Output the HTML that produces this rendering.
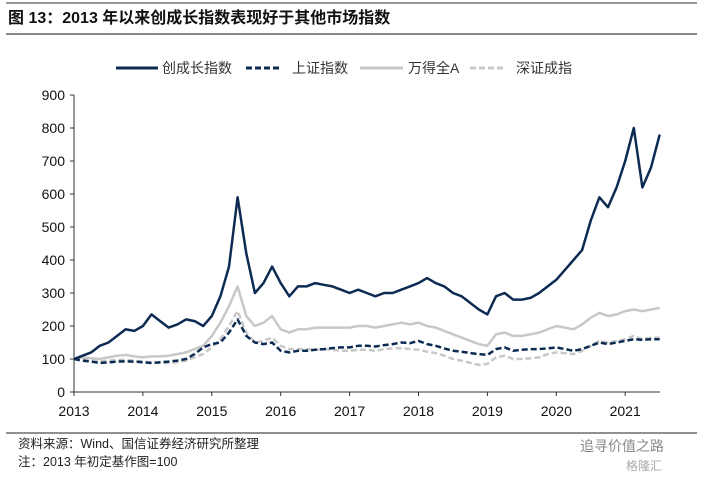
<!DOCTYPE html>
<html><head><meta charset="utf-8"><style>
body{margin:0;background:#fff;width:703px;height:474px;overflow:hidden;font-family:"Liberation Sans","Noto Sans CJK SC",sans-serif}
</style></head><body>
<svg width="703" height="474" xmlns="http://www.w3.org/2000/svg">
<line x1="6" y1="3" x2="697" y2="3" stroke="#333" stroke-width="1"/>
<text x="8" y="23" font-size="16" font-weight="bold" fill="#111" font-family="Liberation Sans,Noto Sans CJK SC,sans-serif">图 13：2013 年以来创成长指数表现好于其他市场指数</text>
<line x1="6" y1="34" x2="697" y2="34" stroke="#888" stroke-width="2"/>
<g id="legend" font-size="14" fill="#333">
<line x1="116" y1="68" x2="158" y2="68" stroke="#0d2b52" stroke-width="3"/><text x="162" y="73">创成长指数</text>
<line x1="246" y1="68" x2="280" y2="68" stroke="#0d2b52" stroke-width="3" stroke-dasharray="6,3"/><text x="292" y="73">上证指数</text>
<line x1="360" y1="68" x2="403" y2="68" stroke="#c8c8c8" stroke-width="3"/><text x="408" y="73">万得全A</text>
<line x1="470" y1="68" x2="504" y2="68" stroke="#c8c8c8" stroke-width="3" stroke-dasharray="6,3"/><text x="516" y="73">深证成指</text>
</g>
<g id="axes"></g>
<g id="series"></g>
<line x1="6" y1="433" x2="697" y2="433" stroke="#222" stroke-width="1"/>
<text x="18" y="448" font-size="12.5" fill="#222">资料来源：Wind、国信证券经济研究所整理</text>
<text x="18" y="466" font-size="12.5" fill="#222">注：2013 年初定基作图=100</text>
<text x="580" y="451" font-size="14" fill="#888">追寻价值之路</text>
<text x="626" y="470" font-size="12" fill="#aaa">格隆汇</text>
</svg>
<script>
const yearTicks=[2013,2014,2015,2016,2017,2018,2019,2020,2021];
const yTicks=[0,100,200,300,400,500,600,700,800,900];
const t0=2013, step=0.125;
const chinext=[100,110,120,140,150,170,190,185,200,235,215,195,205,220,215,200,230,290,380,590,420,300,330,380,330,290,320,320,330,325,320,310,300,310,300,290,300,300,310,320,330,345,330,320,300,290,270,250,235,290,300,280,280,285,300,320,340,370,400,430,520,590,560,620,700,800,620,680,780];
const shanghai=[100,95,92,88,90,92,93,92,90,88,90,92,95,100,115,135,145,150,180,220,170,150,145,150,125,120,125,125,128,130,133,135,135,140,140,138,142,145,150,148,155,145,140,132,125,122,118,115,112,130,135,125,128,130,130,132,135,130,125,130,140,150,145,150,155,160,158,160,160];
const windA=[100,105,102,100,105,110,112,108,105,108,108,110,115,120,130,140,170,210,260,320,230,200,210,230,190,180,190,190,195,195,195,195,195,200,200,195,200,205,210,205,210,200,195,185,175,165,155,145,140,175,180,170,170,175,180,190,200,195,190,205,225,240,230,235,245,250,245,250,255];
const shenzhen=[100,102,98,92,95,98,98,95,92,90,88,88,90,95,105,115,135,160,200,245,180,150,155,165,140,130,130,130,128,130,128,125,125,128,128,125,130,132,133,130,128,122,118,110,100,95,88,82,85,105,110,100,100,102,105,115,120,118,115,125,140,155,150,155,160,170,160,165,165];
const NS='http://www.w3.org/2000/svg';
const X=y=>74+(y-2013)*68.9;
const Y=v=>392-v*0.33;
const ax=document.getElementById('axes');
function mk(tag,attrs,parent){const e=document.createElementNS(NS,tag);for(const k in attrs)e.setAttribute(k,attrs[k]);parent.appendChild(e);return e;}
let l=mk('line',{x1:74,y1:Y(900),x2:74,y2:Y(0),stroke:'#333'},ax);


l=mk('line',{x1:74,y1:Y(0),x2:660,y2:Y(0),stroke:'#333'},ax);


yTicks.forEach(v=>{
 mk('line',{x1:70,y1:Y(v),x2:74,y2:Y(v),stroke:'#333'},ax);
 const t=mk('text',{x:65,y:Y(v)+5,'font-size':14,'text-anchor':'end',fill:'#111'},ax);
 t.textContent=v;
 
 
});
yearTicks.forEach(yr=>{
 mk('line',{x1:X(yr),y1:Y(0),x2:X(yr),y2:Y(0)+4,stroke:'#333'},ax);
 const t=mk('text',{x:X(yr),y:Y(0)+24,'font-size':14,'text-anchor':'middle',fill:'#111'},ax);
 t.textContent=yr;
 
 
});
const sg=document.getElementById('series');
function draw(vals,color,w,dash,name){
 const d=vals.map((v,i)=>(i?'L':'M')+X(t0+i*step).toFixed(1)+','+Y(v).toFixed(1)).join('');
 const p=mk('path',{d:d,fill:'none',stroke:color,'stroke-width':w,'stroke-linejoin':'round'},sg);
 if(dash)p.setAttribute('stroke-dasharray',dash);
 
 
}
draw(shenzhen,'#c8c8c8',2.5,'6,3','line-shenzhen');
draw(windA,'#c8c8c8',2.5,null,'line-winda');
draw(shanghai,'#0d2b52',2.5,'6,3','line-shanghai');
draw(chinext,'#0d2b52',2.5,null,'line-chinext');
</script>
</body></html>
